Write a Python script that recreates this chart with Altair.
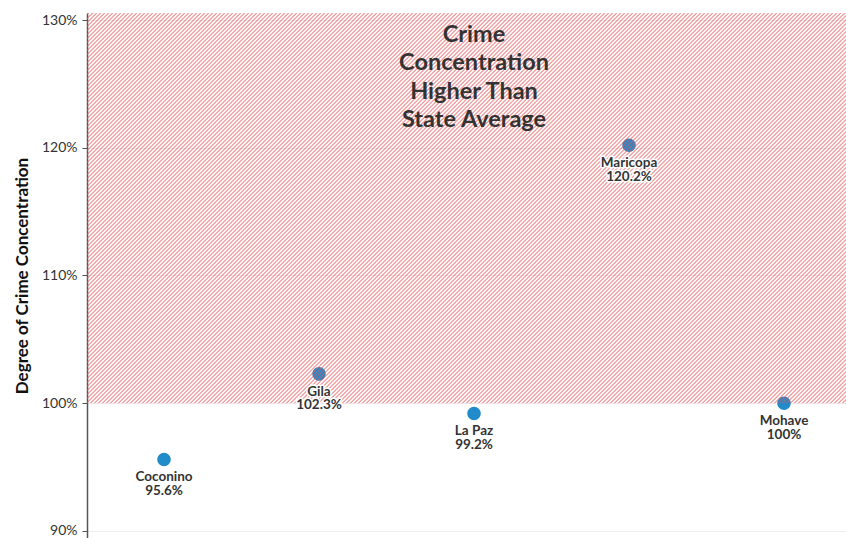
import altair as alt
import pandas as pd

# County crime concentration relative to the state average (1.0 = 100%)
counties = ["Coconino", "Gila", "La Paz", "Maricopa", "Mohave"]
concentration = [0.956, 1.023, 0.992, 1.202, 1.000]

df = pd.DataFrame({"county": counties, "value": concentration})

W, H = 759, 525
Y_MIN, Y_MAX = 0.8945, 1.3055
FONT = "Lato"

y_scale = alt.Scale(domain=[Y_MIN, Y_MAX], nice=False, zero=False)
x_scale = alt.Scale(type="point", domain=counties, padding=0.4484, align=0.554)

# Diagonal hatch built from a linear gradient with a repeating stripe profile
band_w = W
band_h = H * (Y_MAX - 1.0) / (Y_MAX - Y_MIN)
span = band_w + band_h
period = 4.0
RED = "rgba(236,80,84,0.55)"
CLEAR = "rgba(236,80,84,0)"
profile = [(0.0, CLEAR), (0.5, CLEAR), (1.2, RED), (2.4, RED), (3.1, CLEAR), (4.0, CLEAR)]
n = int(span / period) + 1
stops = []
for k in range(n):
    for pos, col in profile:
        off = min((k * period + pos) / span, 1.0)
        stops.append(alt.GradientStop(offset=off, color=col))
gx2 = band_w * span / (band_w ** 2 + band_h ** 2)
gy2 = band_h * span / (band_w ** 2 + band_h ** 2)
hatch = alt.Gradient(gradient="linear", stops=stops, x1=0, y1=0, x2=gx2, y2=gy2)

base = alt.Chart(df)

points = base.mark_circle(size=185, opacity=1, color="#228bc9").encode(
    x=alt.X("county:N", scale=x_scale, axis=None),
    y=alt.Y(
        "value:Q",
        scale=y_scale,
        axis=alt.Axis(
            title="Degree of Crime Concentration",
            values=[0.9, 1.0, 1.1, 1.2, 1.3],
            format=".0%",
            grid=True,
            gridColor="#eeeeee",
            domainColor="#555555",
            domainWidth=1.5,
            tickColor="#555555",
            tickSize=5,
            labelFontSize=14,
            labelColor="#333333",
            labelFont=FONT,
            labelPadding=5,
            titleFont=FONT,
            titleFontSize=17,
            titleFontWeight="bold",
            titleColor="#111111",
            titlePadding=10,
        ),
    ),
)

band = alt.Chart().mark_rect(fill=hatch).encode(
    x=alt.value(0),
    x2=alt.value("width"),
    y=alt.datum(1.0, scale=y_scale),
    y2=alt.datum(Y_MAX),
)

label_expr = "datum.county + '\\n' + format(datum.value, '.1~%')"
label_enc = dict(
    x=alt.X("county:N", scale=x_scale),
    y=alt.Y("value:Q", scale=y_scale),
    text="label:N",
)
text_style = dict(
    baseline="middle", dy=18, fontSize=13.5, fontWeight="bold", font=FONT,
    lineBreak="\n", lineHeight=13.5,
)
labels_halo = base.transform_calculate(label=label_expr).mark_text(
    stroke="white", strokeWidth=3, strokeJoin="round", color="white", **text_style
).encode(**label_enc)
labels = base.transform_calculate(label=label_expr).mark_text(
    color="#333333", **text_style
).encode(**label_enc)

note = alt.Chart().mark_text(
    text="Crime\nConcentration\nHigher Than\nState Average",
    lineBreak="\n", fontSize=23.5, fontWeight="bold", font=FONT,
    lineHeight=28.5, color="#333333", baseline="middle", align="center",
).encode(
    x=alt.datum("La Paz", scale=x_scale),
    y=alt.datum(1.2885),
)

chart = alt.layer(points, band, labels_halo, labels, note).properties(
    width=W,
    height=H,
    autosize=alt.AutoSizeParams(type="none"),
    padding={"left": 87, "top": 13, "right": 0, "bottom": 0},
).configure_view(stroke=None)

chart.save("out.html", embed_options={"renderer": "svg", "actions": False})
